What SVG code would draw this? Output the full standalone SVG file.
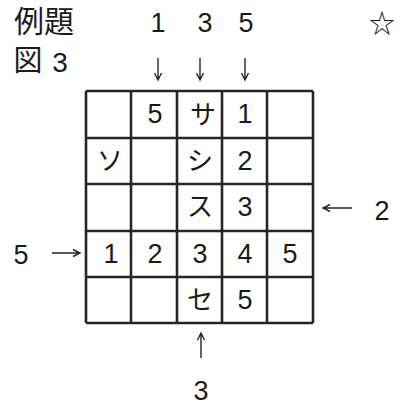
<svg xmlns="http://www.w3.org/2000/svg" width="408" height="406" viewBox="0 0 408 406">
<style>
text{font-family:"Liberation Sans","Noto Sans CJK JP",sans-serif;fill:#1a1a1a;text-anchor:middle}
.t{font-size:27px}
.c{font-size:27px}
.k{font-size:26px}
.g line{stroke:#262626;stroke-width:2.6}
.a{stroke:#262626;stroke-width:1.4;fill:none}
</style>
<rect width="408" height="406" fill="#fff"/>
<g id="title">
<text x="44" y="32" style="font-size:30px">例題</text>
<text x="28" y="71" style="font-size:29px">図</text>
<text x="60" y="72" style="font-size:28px">3</text>
<text x="382" y="33" style="font-size:26px;font-family:'Noto Sans CJK JP',sans-serif">☆</text>
</g>
<g id="grid" class="g">
<line x1="86" y1="91" x2="86" y2="323"/>
<line x1="131" y1="91" x2="131" y2="323"/>
<line x1="177" y1="91" x2="177" y2="323"/>
<line x1="222" y1="91" x2="222" y2="323"/>
<line x1="267" y1="91" x2="267" y2="323"/>
<line x1="313" y1="91" x2="313" y2="323"/>
<line x1="86" y1="91" x2="313" y2="91"/>
<line x1="86" y1="138" x2="313" y2="138"/>
<line x1="86" y1="184" x2="313" y2="184"/>
<line x1="86" y1="231" x2="313" y2="231"/>
<line x1="86" y1="277" x2="313" y2="277"/>
<line x1="86" y1="323" x2="313" y2="323"/>
</g>
<g id="cells" class="c">
<text x="155" y="123">5</text>
<text x="203" y="124" class="k">サ</text>
<text x="245" y="123">1</text>
<text x="110" y="170" class="k">ソ</text>
<text x="200" y="170" class="k">シ</text>
<text x="245" y="170">2</text>
<text x="200" y="216" class="k">ス</text>
<text x="245" y="216">3</text>
<text x="111" y="263">1</text>
<text x="155" y="263">2</text>
<text x="200" y="263">3</text>
<text x="245" y="263">4</text>
<text x="290" y="263">5</text>
<text x="200" y="309" class="k">セ</text>
<text x="245" y="309">5</text>
</g>
<g id="clues" class="t">
<text x="158" y="32">1</text>
<text x="205" y="32">3</text>
<text x="246" y="32">5</text>
<text x="382" y="220">2</text>
<text x="21" y="264">5</text>
<text x="201" y="400">3</text>
</g>
<g id="connectors" class="a">
<path d="M158 58V79M154.5 73L158 80L161.5 73"/>
<path d="M200 58V79M196.5 73L200 80L203.5 73"/>
<path d="M245 58V79M241.5 73L245 80L248.5 73"/>
<path d="M352 208H323M330 204.5L323 208L330 211.5"/>
<path d="M52 253H80M73 249.5L80 253L73 256.5"/>
<path d="M201 358V333M197.5 340L201 333L204.5 340"/>
</g>
</svg>
